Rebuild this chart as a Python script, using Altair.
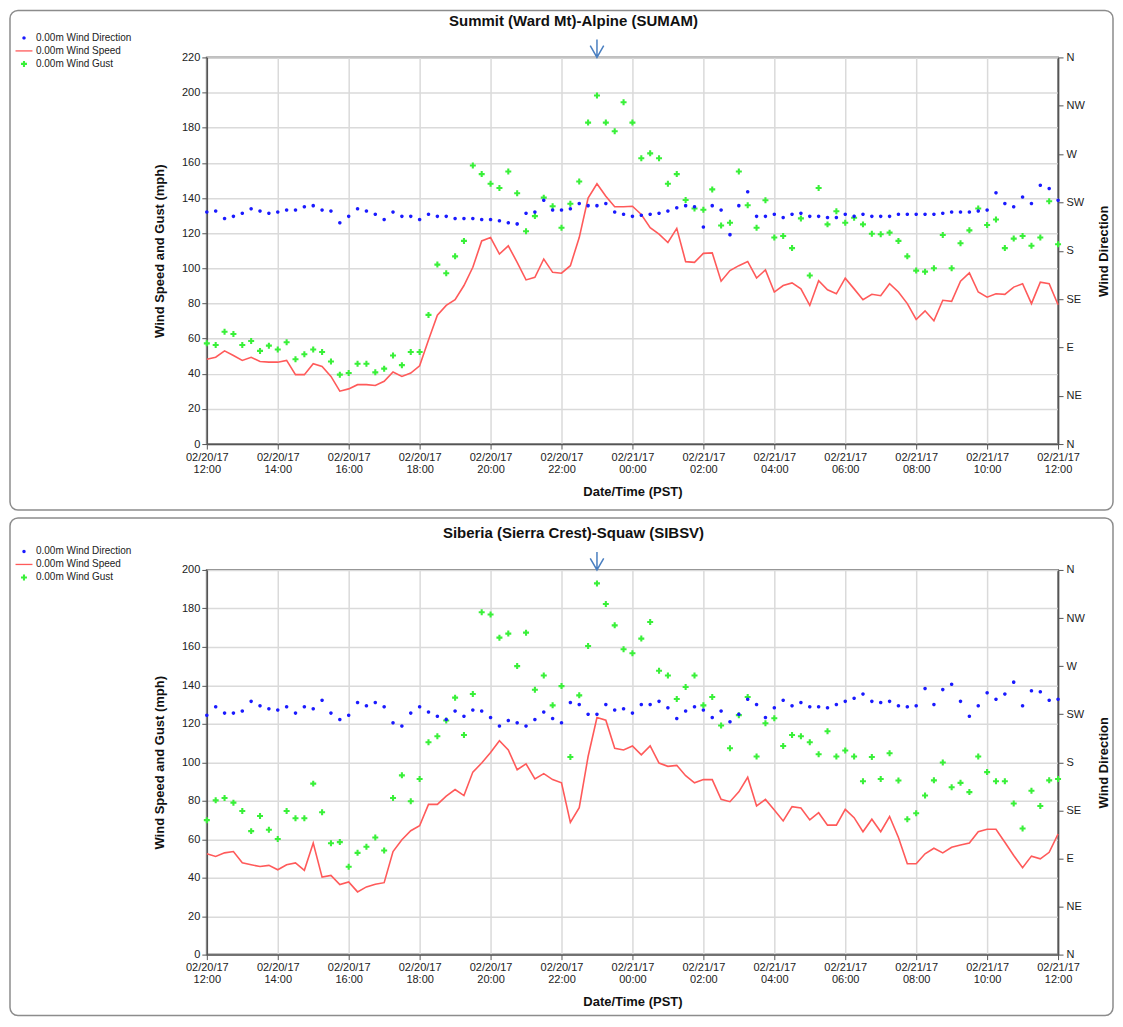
import altair as alt
import pandas as pd

FONT = "Liberation Sans"

# ---------------- data ----------------
times = pd.date_range("2017-02-20 12:00", "2017-02-21 12:00", freq="15min")
time_str = [t.strftime("%Y-%m-%dT%H:%M:%S") for t in times]
ARROW_TIME = "2017-02-20T23:00:00"

tick_times = [(20, 12), (20, 14), (20, 16), (20, 18), (20, 20), (20, 22),
              (21, 0), (21, 2), (21, 4), (21, 6), (21, 8), (21, 10), (21, 12)]
dir_labels = ["N", "NE", "E", "SE", "S", "SW", "W", "NW", "N"]
dir_values = [0, 45, 90, 135, 180, 225, 270, 315, 360]

NAMES = ["0.00m Wind Direction", "0.00m Wind Speed", "0.00m Wind Gust"]

top_speed = [48.3, 49.4, 53.0, 50.4, 47.6, 49.4, 47.0, 46.6, 46.6, 47.6, 39.5, 39.5, 45.7, 44.2, 38.5, 30.1, 31.4, 33.8, 33.8, 33.3, 35.7, 41.0, 38.5, 40.4, 44.5,
             59.2, 73.3, 78.9, 82.1, 90.2, 100.6, 115.6, 117.5, 108.1, 112.8, 103.4, 93.4, 94.9, 105.3, 97.7, 97.2, 101.5, 117.5, 140.0, 148.1, 141.0, 135.0, 135.0, 135.3,
             130.6, 123.1, 119.4, 114.7, 122.7, 103.8, 103.4, 108.5, 108.8, 92.7, 98.7, 101.5, 103.9, 94.5, 99.1, 86.5, 90.2, 91.7, 88.3, 78.9, 93.0, 87.8, 85.5, 94.4, 88.3,
             82.1, 85.2, 84.4, 91.2, 86.5, 79.9, 70.9, 75.8, 70.1, 81.8, 81.2, 92.7, 97.4, 86.5, 83.6, 85.5, 85.2, 89.3, 91.2, 79.9, 92.1, 91.2, 79.3]
top_gust = [57.3, 56.4, 63.9, 62.6, 56.4, 58.6, 53.0, 56.0, 53.8, 57.9, 48.3, 51.1, 53.8, 52.4, 47.0, 39.5, 40.4, 45.7, 45.7, 40.8, 42.9, 50.4, 44.9, 52.4, 52.4,
            73.5, 102.1, 97.2, 106.8, 115.6, 158.5, 153.6, 148.1, 145.7, 155.1, 142.7, 121.1, 129.7, 140.2, 135.3, 123.1, 136.7, 149.4, 182.9, 198.3, 182.9, 178.0, 194.5, 182.9,
            162.6, 165.4, 162.6, 148.1, 153.6, 138.9, 134.0, 133.3, 144.9, 124.4, 125.9, 155.1, 135.9, 123.1, 138.7, 117.5, 118.4, 111.5, 128.4, 95.9, 145.7, 125.0, 132.5, 125.9, 128.8,
            125.0, 119.7, 119.4, 120.3, 115.6, 106.8, 98.7, 98.1, 100.0, 119.0, 100.0, 114.3, 121.6, 134.0, 124.6, 127.8, 111.5, 116.9, 118.4, 112.8, 117.5, 138.2, 113.7]
top_dir = [216, 217, 210, 212, 215, 219, 217, 215, 216, 218, 218, 221, 222, 218, 217, 206, 212, 219, 217, 214, 209, 216, 212, 212, 209,
           214, 212, 212, 210, 210, 210, 209, 209, 208, 206, 205, 215, 216, 227, 218, 218, 219, 224, 222, 222, 224, 216, 214, 212,
           213, 214, 215, 217, 220, 222, 221, 202, 222, 218, 195, 222, 235, 212, 212, 214, 211, 214, 215, 212, 212, 211, 211, 214, 212,
           214, 212, 212, 212, 214, 214, 214, 214, 214, 215, 216, 216, 216, 217, 218, 234, 224, 221, 230, 224, 241, 238, 227]

bot_speed = [52.4, 51.0, 52.9, 53.6, 47.7, 46.7, 45.8, 46.4, 44.1, 46.7, 47.7, 43.8, 58.0, 40.3, 41.2, 36.4, 37.8, 32.6, 35.2, 36.6, 37.4, 53.6, 59.7, 64.4, 67.0,
             78.1, 78.1, 82.4, 85.8, 82.7, 94.9, 99.6, 105.1, 111.2, 106.4, 96.1, 99.2, 91.3, 94.1, 91.0, 89.3, 68.7, 76.4, 103.0, 123.3, 121.9, 107.3, 106.4, 108.5,
             103.9, 108.5, 99.6, 97.9, 98.4, 93.0, 89.3, 91.0, 91.0, 80.7, 79.5, 84.6, 92.2, 77.3, 80.7, 75.2, 69.5, 76.9, 76.2, 70.0, 73.8, 67.3, 67.3, 75.5, 71.2,
             63.9, 70.4, 63.9, 71.8, 60.9, 47.2, 47.2, 52.4, 55.3, 52.9, 55.8, 57.0, 58.0, 63.9, 65.2, 65.2, 58.4, 51.5, 45.2, 51.2, 49.8, 53.2, 62.7]
bot_gust = [69.9, 80.2, 81.4, 79.0, 74.7, 64.2, 72.1, 64.9, 60.1, 74.7, 70.9, 70.9, 88.9, 74.0, 57.9, 58.5, 45.7, 52.9, 56.1, 60.9, 54.1, 81.4, 93.2, 79.7, 91.3,
            110.4, 113.5, 121.7, 133.6, 114.2, 135.5, 178.0, 176.8, 164.8, 166.9, 150.0, 167.4, 137.7, 145.1, 129.6, 139.6, 102.7, 134.8, 160.5, 193.0, 182.3, 171.2, 158.8, 156.7,
            164.3, 172.9, 147.6, 145.1, 132.9, 139.1, 145.1, 129.6, 133.9, 119.1, 107.3, 124.5, 133.9, 103.0, 120.3, 122.9, 108.5, 114.2, 113.5, 110.4, 104.2, 116.1, 103.0, 106.1, 103.0,
            90.1, 102.7, 91.3, 104.7, 90.5, 70.4, 73.5, 82.7, 90.6, 99.9, 87.0, 89.3, 84.5, 103.0, 94.9, 90.1, 90.1, 78.6, 65.6, 85.2, 77.3, 90.6, 91.3]
bot_dir = [224, 232, 226, 226, 228, 237, 233, 230, 229, 232, 226, 232, 230, 238, 226, 220, 224, 236, 233, 236, 232, 217, 214, 226, 232,
           227, 223, 220, 228, 223, 229, 228, 222, 214, 219, 217, 214, 220, 227, 221, 217, 236, 234, 225, 225, 234, 229, 230, 226,
           234, 234, 237, 231, 221, 228, 232, 229, 222, 228, 218, 225, 239, 234, 222, 231, 238, 233, 236, 232, 232, 231, 234, 237, 240,
           244, 237, 236, 237, 233, 232, 233, 249, 234, 248, 253, 237, 223, 233, 245, 239, 244, 255, 233, 247, 246, 238, 239]

# ---------------- styling ----------------
COLORS = ["#1a1aff", "#ff5a5a", "#39f039"]
DOT = "M0,-0.26A0.26,0.26 0 1,1 0,0.26A0.26,0.26 0 1,1 0,-0.26Z"
BAR = "M-1.3,-0.1L1.3,-0.1L1.3,0.1L-1.3,0.1Z"
PLUS = ("M-0.46,-0.16L-0.16,-0.16L-0.16,-0.46L0.16,-0.46L0.16,-0.16L0.46,-0.16"
        "L0.46,0.16L0.16,0.16L0.16,0.46L-0.16,0.46L-0.16,0.16L-0.46,0.16Z")
ARROW = "M0,-1L0,1M-0.75,-0.3L0,1L0.75,-0.3"


def dt(d, h):
    return alt.DateTime(year=2017, month=2, date=d, hours=h, minutes=0)


TICKS = [dt(d, h) for d, h in tick_times]


def panel(title, speed, gust, direction, ymax, w, h, frame, title_xy, legend_xy):
    df = pd.DataFrame({"t": time_str, "speed": speed, "gust": gust,
                       "dir": direction, "series": NAMES[0]})
    base = alt.Chart(df)
    one = alt.Data(values=[{"a": 1}])

    x = alt.X("t:T", title="Date/Time (PST)",
              scale=alt.Scale(domain=[dt(20, 12), dt(21, 12)], nice=False),
              axis=alt.Axis(values=TICKS, grid=True, tickSize=5, labelPadding=2,
                            labelAngle=0, labelAlign="center", labelOverlap=False,
                            titlePadding=11, labelLineHeight=12,
                            labelExpr="[timeFormat(datum.value, '%m/%d/%y'), timeFormat(datum.value, '%H:%M')]"))
    yscale = alt.Scale(domain=[0, ymax], nice=False)
    yaxis = alt.Axis(values=list(range(0, ymax + 1, 20)), grid=True, tickSize=5,
                     labelPadding=2, titlePadding=15)
    ytitle = "Wind Speed and Gust (mph)"

    speed_line = base.mark_line(color=COLORS[1], strokeWidth=1.6).encode(
        x=x, y=alt.Y("speed:Q", scale=yscale, axis=yaxis, title=ytitle))
    gust_pts = base.mark_point(filled=True, shape=PLUS, size=170, color=COLORS[2],
                               opacity=1).encode(
        x=x, y=alt.Y("gust:Q", scale=yscale, axis=yaxis, title=ytitle))
    left = alt.layer(speed_line, gust_pts)

    leg = alt.Legend(title=None, orient="none", legendX=legend_xy[0], legendY=legend_xy[1],
                     labelFontSize=10, labelFont=FONT, labelColor="#222", symbolSize=170,
                     rowPadding=1, labelOffset=5, symbolStrokeWidth=0)
    dir_pts = base.mark_point(filled=True, size=185, opacity=1).encode(
        x=x,
        y=alt.Y("dir:Q", scale=alt.Scale(domain=[0, 360], nice=False),
                axis=alt.Axis(orient="right", values=dir_values, grid=False, tickSize=5,
                              labelPadding=3, titlePadding=26, titleAngle=270,
                              labelExpr="['N','NE','E','SE','S','SW','W','NW','N'][round(datum.value / 45)]"),
                title="Wind Direction"),
        color=alt.Color("series:N", scale=alt.Scale(domain=NAMES, range=COLORS), legend=leg),
        shape=alt.Shape("series:N", scale=alt.Scale(domain=NAMES, range=[DOT, BAR, PLUS]), legend=leg),
    )

    arrow = alt.Chart(alt.Data(values=[{"t": ARROW_TIME}])).mark_point(
        shape=ARROW, size=324, filled=False, stroke="#4a7fc0", strokeWidth=1.5, opacity=1
    ).encode(x=x, y=alt.value(-9))

    box = alt.Chart(one).mark_rect(fill="transparent", stroke="#8c8c8c", strokeWidth=1.5,
                                   cornerRadius=8).encode(
        x=alt.value(frame[0]), x2=alt.value(frame[1]),
        y=alt.value(frame[2]), y2=alt.value(frame[3]))

    ttl = alt.Chart(one).mark_text(text=title, font=FONT, fontSize=15, fontWeight="bold",
                                   color="#111").encode(
        x=alt.value(title_xy[0]), y=alt.value(title_xy[1]))

    return alt.layer(box, left, dir_pts, arrow, ttl).resolve_scale(y="independent").properties(
        width=w, height=h)


top = panel("Summit (Ward Mt)-Alpine (SUMAM)", top_speed, top_gust, top_dir, 220,
            852, 387, (-197, 907, -47, 453), (367, -36), (-190, -26.5))
bottom = panel("Siberia (Sierra Crest)-Squaw (SIBSV)", bot_speed, bot_gust, bot_dir, 200,
               852, 385, (-197, 907, -52, 446), (367, -37), (-190, -25.5))

chart = alt.vconcat(top, bottom, spacing=4).resolve_scale(
    color="independent", shape="independent"
).properties(padding=0).configure_view(
    stroke="#808080", strokeWidth=2
).configure_axis(
    labelFont=FONT, titleFont=FONT, labelFontSize=11, titleFontSize=13,
    labelColor="#222", titleColor="#111", domainColor="#555", tickColor="#555",
    gridColor="#dadada", gridWidth=1.5, titleFontWeight="bold", domainWidth=1.5
)

chart.save("out.html", embed_options={"renderer": "svg", "actions": False})
